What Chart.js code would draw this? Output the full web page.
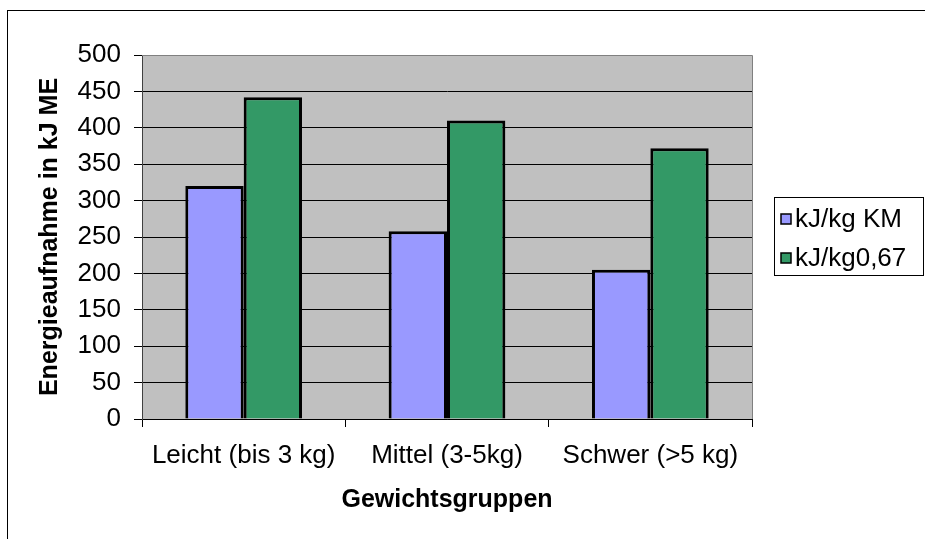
<!DOCTYPE html>
<html>
<head>
<meta charset="utf-8">
<script src="https://cdn.jsdelivr.net/npm/chart.js@4.4.1/dist/chart.umd.min.js"></script>
<style>
    html, body { margin: 0; padding: 0; background: #ffffff; }
    #wrap { width: 925px; height: 539px; position: relative; }
</style>
</head>
<body>
<div id="wrap"><canvas id="barChart"></canvas></div>
<script>
var categories = ["Leicht (bis 3 kg)", "Mittel (3-5kg)", "Schwer (>5 kg)"];
var seriesNames = ["kJ/kg KM", "kJ/kg0,67"];
var kmValues = [320, 258, 205];
var potValues = [442, 410, 372];
var yTicks = [0, 50, 100, 150, 200, 250, 300, 350, 400, 450, 500];

var fontFamily = "'Liberation Sans', Arial, sans-serif";

// plot area fill, outer frame and the boxed legend
var excelLook = {
    id: "excelLook",
    beforeDraw: function (chart) {
        var c = chart.ctx;
        var a = chart.chartArea;
        c.save();
        c.fillStyle = "#ffffff";
        c.fillRect(0, 0, chart.width, chart.height);
        c.strokeStyle = "#000000";
        c.lineWidth = 1;
        c.strokeRect(7.5, 10.5, chart.width + 20, chart.height + 20);
        c.fillStyle = "#c0c0c0";
        c.fillRect(a.left, a.top, a.right - a.left, a.bottom - a.top);
        c.restore();
    },
    afterDatasetsDraw: function (chart) {
        var c = chart.ctx;
        var a = chart.chartArea;
        c.save();
        c.strokeStyle = "#808080";
        c.lineWidth = 1;
        c.beginPath();
        c.moveTo(a.left, a.top + 0.5);
        c.lineTo(a.right + 0.5, a.top + 0.5);
        c.lineTo(a.right + 0.5, a.bottom);
        c.stroke();

        // legend
        c.strokeStyle = "#000000";
        c.strokeRect(774.5, 197.5, 149, 78);
        c.font = "26px " + fontFamily;
        c.textBaseline = "middle";
        c.textAlign = "left";
        var rowY = [219, 258];
        chart.data.datasets.forEach(function (ds, i) {
            c.fillStyle = ds.backgroundColor;
            c.fillRect(781, rowY[i] - 5, 10, 10);
            c.lineWidth = 1.5;
            c.strokeStyle = "#000000";
            c.strokeRect(781, rowY[i] - 5, 10, 10);
            c.fillStyle = "#000000";
            c.fillText(ds.label, 795, rowY[i] + 1);
        });
        c.restore();
    }
};

(function () {
    var ctx = document.getElementById("barChart");
    new Chart(ctx, {
        type: "bar",
        data: {
            labels: categories,
            datasets: [
                {
                    label: seriesNames[0],
                    data: kmValues,
                    backgroundColor: "#9999ff",
                    borderColor: "#000000",
                    borderWidth: 3,
                },
                {
                    label: seriesNames[1],
                    data: potValues,
                    backgroundColor: "#339966",
                    borderColor: "#000000",
                    borderWidth: 3,
                },
            ],
        },
        options: {
            responsive: true,
            maintainAspectRatio: false,
            animation: false,
            datasets: {
                bar: {
                    categoryPercentage: 0.574,
                    barPercentage: 1.0,
                },
            },
            layout: {
                padding: { left: 0, top: 55, right: 173, bottom: 0 },
            },
            plugins: {
                legend: { display: false },
                tooltip: { enabled: false },
            },
            scales: {
                x: {
                    afterFit: function (scale) {
                        scale.height = 120;
                    },
                    grid: {
                        offset: true,
                        drawOnChartArea: false,
                        drawTicks: true,
                        tickLength: 8,
                        tickColor: "#000000",
                    },
                    border: { color: "#000000", width: 1 },
                    ticks: {
                        color: "#000000",
                        font: { family: fontFamily, size: 26 },
                        padding: 13,
                        maxRotation: 0,
                        autoSkip: false,
                    },
                    title: {
                        display: true,
                        text: "Gewichtsgruppen",
                        color: "#000000",
                        font: { family: fontFamily, size: 25, weight: "bold" },
                        padding: { top: 0, bottom: 24 },
                    },
                },
                y: {
                    min: 0,
                    max: 500,
                    afterFit: function (scale) {
                        scale.width = 142;
                    },
                    afterBuildTicks: function (scale) {
                        scale.ticks = yTicks.map(function (v) {
                            return { value: v };
                        });
                    },
                    grid: {
                        color: function (g) {
                            return g.tick && g.tick.value === 500 ? "#808080" : "#000000";
                        },
                        lineWidth: 1,
                        tickLength: 8,
                        tickColor: "#000000",
                    },
                    border: { color: "#404040", width: 1 },
                    ticks: {
                        color: "#000000",
                        font: { family: fontFamily, size: 26 },
                        padding: 13,
                    },
                    title: {
                        display: true,
                        text: "Energieaufnahme in kJ ME",
                        color: "#000000",
                        font: { family: fontFamily, size: 25, weight: "bold" },
                        padding: { top: 35, bottom: 0 },
                    },
                },
            },
        },
        plugins: [excelLook],
    });
})();
</script>
</body>
</html>
